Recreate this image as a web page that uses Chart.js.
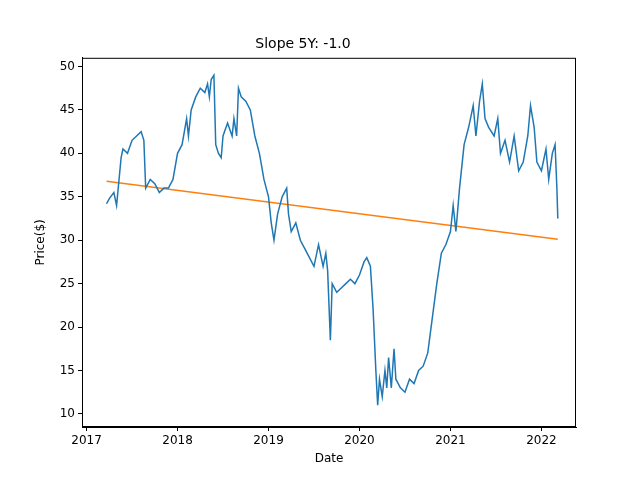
<!DOCTYPE html>
<html><head><meta charset="utf-8">
<script src="https://cdn.jsdelivr.net/npm/chart.js@4/dist/chart.umd.min.js"></script>
<style>html,body{margin:0;background:#fff}#wrap{width:640px;height:480px}</style>
</head><body><div id="wrap"><canvas id="c"></canvas></div>
<script>
// decimal-year dates and prices
const dates = [2017.22,2017.25,2017.3,2017.33,2017.38,2017.4,2017.45,2017.5,2017.55,2017.6,2017.63,2017.65,2017.7,2017.75,2017.8,2017.85,2017.9,2017.95,
  2018.0,2018.05,2018.1,2018.12,2018.15,2018.2,2018.25,2018.3,2018.33,2018.35,2018.37,2018.4,2018.42,2018.45,2018.48,2018.5,2018.55,2018.6,2018.62,2018.65,2018.67,2018.7,2018.75,2018.8,2018.85,2018.9,2018.95,
  2019.0,2019.03,2019.06,2019.1,2019.15,2019.2,2019.22,2019.25,2019.3,2019.35,2019.4,2019.45,2019.5,2019.55,2019.6,2019.63,2019.65,2019.68,2019.7,2019.75,2019.8,2019.85,2019.9,2019.95,
  2020.0,2020.05,2020.08,2020.12,2020.15,2020.18,2020.2,2020.22,2020.25,2020.28,2020.3,2020.32,2020.35,2020.38,2020.4,2020.45,2020.5,2020.55,2020.6,2020.65,2020.7,2020.75,2020.8,2020.85,2020.9,2020.95,
  2021.0,2021.03,2021.06,2021.1,2021.15,2021.2,2021.25,2021.28,2021.32,2021.35,2021.38,2021.42,2021.48,2021.52,2021.55,2021.6,2021.65,2021.7,2021.75,2021.8,2021.85,2021.88,2021.92,2021.95,
  2022.0,2022.05,2022.08,2022.12,2022.15,2022.17,2022.18];
const prices = [34.2,34.8,35.5,34,39.5,40.5,40,41.5,42,42.5,41.5,36,37,36.5,35.5,36,36,37,
  40,41,44,42,45,46.5,47.5,47,48,46.5,48.5,49,41,40,39.5,42,43.5,42,44,42,47.5,46.5,46,45,42,40,37,
  35,32,30,33,35,36,33,31,32,30,29,28,27,29.5,27,28.5,26.5,18.5,25,24,24.5,25,25.5,25,
  26,27.5,28,27,22,15,11,14,12,15,13,16.5,13,17.5,14,13,12.5,14,13.5,15,15.5,17,21,25,28.5,29.5,
  31,34,31,36,41,43,45.5,42,46,48,44,43,42,44,40,41.5,39,42,38,39,42,45.5,43,39,
  38,40.5,37,40,41,36,32.5];
const trendDates = [2017.22, 2022.18];
const trendPrices = [36.8, 30.1];
const yearTicks = [2017,2018,2019,2020,2021,2022];

const toXY = (xs, ys) => xs.map((x,i)=>({x, y: ys[i]}));
const frame = {id:'frame', afterDraw(c){const a=c.chartArea,g=c.ctx;g.save();g.strokeStyle='#000';g.lineWidth=1;g.strokeRect(a.left+.5,a.top+.5,a.width-1,a.height-1);g.restore();}};
const axisGrid = {drawOnChartArea:false, drawTicks:true, tickLength:4, color:'#000'};

new Chart(document.getElementById('c'), {
  type:'line',
  data:{datasets:[
    {data:toXY(dates,prices), borderColor:'#1f77b4', borderWidth:1.5, pointRadius:0, tension:0},
    {data:toXY(trendDates,trendPrices), borderColor:'#ff7f0e', borderWidth:1.5, pointRadius:0}
  ]},
  options:{
    animation:false, responsive:true, maintainAspectRatio:false,
    layout:{padding:{left:30, right:64, bottom:10}},
    plugins:{legend:{display:false}, tooltip:{enabled:false},
      title:{display:true, text:'Slope 5Y: -1.0', color:'#000', font:{family:'DejaVu Sans', size:14, weight:'normal'}, padding:{top:36,bottom:5}}},
    scales:{
      x:{type:'linear', min:2016.95, max:2022.38, grid:axisGrid, border:{color:'#000'},
        afterBuildTicks(s){s.ticks=yearTicks.map(v=>({value:v}));},
        afterFit(s){s.height=43;},
        ticks:{color:'#000', font:{family:'DejaVu Sans', size:12}, callback:v=>String(v), maxRotation:0},
        title:{display:true, text:'Date', color:'#000', font:{family:'DejaVu Sans', size:12}, padding:{top:2}}},
      y:{min:8.5, max:51, grid:axisGrid, border:{color:'#000'},
        afterBuildTicks(s){s.ticks=[10,15,20,25,30,35,40,45,50].map(v=>({value:v}));},
        afterFit(s){s.width=52;},
        ticks:{color:'#000', font:{family:'DejaVu Sans', size:12}},
        title:{display:true, text:'Price($)', color:'#000', font:{family:'DejaVu Sans', size:12}}}
    }
  },
  plugins:[frame]
});
</script></body></html>
